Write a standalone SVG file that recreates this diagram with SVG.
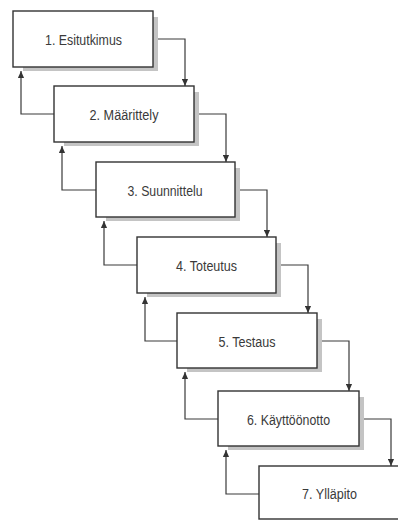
<svg xmlns="http://www.w3.org/2000/svg" width="398" height="522" viewBox="0 0 398 522">
<defs>
<marker id="ah" viewBox="0 0 8 8" refX="8" refY="4" markerWidth="7" markerHeight="7" markerUnits="userSpaceOnUse" orient="auto">
<path d="M0,0.5 L8,4 L0,7.5 z" fill="#333"/>
</marker>
</defs>
<style>
.box{fill:#fff;stroke:#333;stroke-width:1.4}
.sh{fill:#c4c4c4}
.lbl{font-family:"Liberation Sans",Arial,sans-serif;font-size:15.5px;fill:#3a3a3a;text-anchor:middle}
.c{fill:none;stroke:#3a3a3a;stroke-width:1.2;marker-end:url(#ah)}
</style>
<rect width="398" height="522" fill="#fff"/>
<g id="connectors">
<path class="c" d="M153,39 H185 V86"/>
<path class="c" d="M194,114 H226 V162"/>
<path class="c" d="M235,190 H267 V237"/>
<path class="c" d="M276,265 H308 V313"/>
<path class="c" d="M317,341 H349 V391"/>
<path class="c" d="M359,419 H391 V466"/>
<path class="c" d="M54,114 H21 V71"/>
<path class="c" d="M96,190 H62 V146"/>
<path class="c" d="M137,265 H104 V221"/>
<path class="c" d="M177,341 H145 V297"/>
<path class="c" d="M218,419 H185 V372"/>
<path class="c" d="M260,494 H226 V450"/>
</g>
<g id="n1">
<rect class="sh" x="153" y="17" width="5" height="54"/><rect class="sh" x="23" y="67" width="135" height="4"/>
<rect class="box" x="13" y="11" width="140" height="56"/>
<text class="lbl" x="83.5" y="45" textLength="77" lengthAdjust="spacingAndGlyphs">1. Esitutkimus</text>
</g>
<g id="n2">
<rect class="sh" x="194" y="92" width="5" height="54"/><rect class="sh" x="64" y="142" width="135" height="4"/>
<rect class="box" x="54" y="86" width="140" height="56"/>
<text class="lbl" x="124" y="120" textLength="69" lengthAdjust="spacingAndGlyphs">2. Määrittely</text>
</g>
<g id="n3">
<rect class="sh" x="235" y="168" width="5" height="53"/><rect class="sh" x="106" y="217" width="134" height="4"/>
<rect class="box" x="96" y="162" width="139" height="55"/>
<text class="lbl" x="165" y="196" textLength="75" lengthAdjust="spacingAndGlyphs">3. Suunnittelu</text>
</g>
<g id="n4">
<rect class="sh" x="276" y="243" width="5" height="54"/><rect class="sh" x="147" y="293" width="134" height="4"/>
<rect class="box" x="137" y="237" width="139" height="56"/>
<text class="lbl" x="206.5" y="271" textLength="61" lengthAdjust="spacingAndGlyphs">4. Toteutus</text>
</g>
<g id="n5">
<rect class="sh" x="317" y="319" width="5" height="53"/><rect class="sh" x="187" y="368" width="135" height="4"/>
<rect class="box" x="177" y="313" width="140" height="55"/>
<text class="lbl" x="247" y="347" textLength="57" lengthAdjust="spacingAndGlyphs">5. Testaus</text>
</g>
<g id="n6">
<rect class="sh" x="359" y="397" width="5" height="53"/><rect class="sh" x="228" y="446" width="136" height="4"/>
<rect class="box" x="218" y="391" width="141" height="55"/>
<text class="lbl" x="288.5" y="425" textLength="83" lengthAdjust="spacingAndGlyphs">6. Käyttöönotto</text>
</g>
<g id="n7">
<rect class="box" x="259" y="466" width="145" height="53"/>
<text class="lbl" x="329.5" y="499" textLength="55" lengthAdjust="spacingAndGlyphs">7. Ylläpito</text>
</g>
</svg>
